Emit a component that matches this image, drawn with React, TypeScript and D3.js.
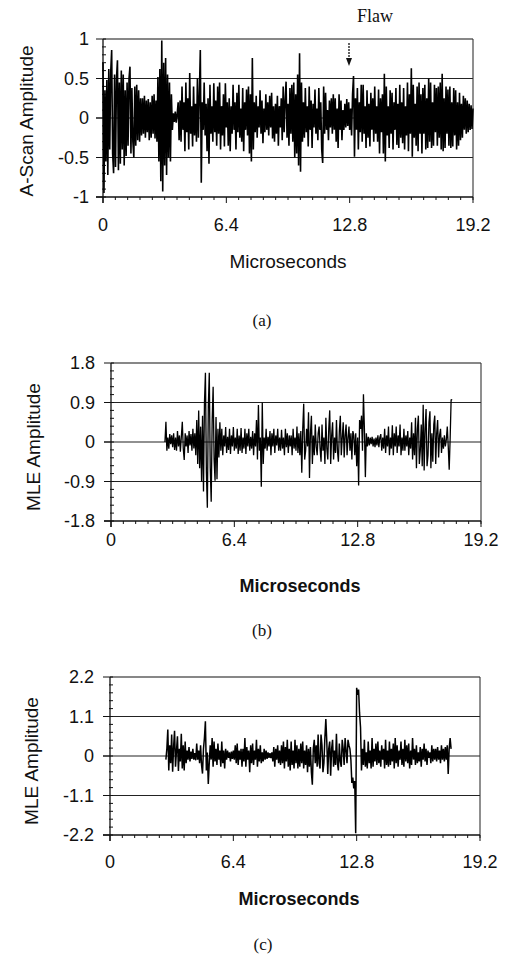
import React from 'react';
import * as d3 from 'd3';

// ---------- data ----------
const X_TICKS = [0, 6.4, 12.8, 19.2];
const X_TICK_LABELS = ['0', '6.4', '12.8', '19.2'];
const SAMPLE_STEP = 0.05; // microseconds between samples

// (a) A-scan, samples from 0 to 19.2 us
const A_START = 0;
const A_VALUES = [
  0.70, -0.95, 0.35, -0.55, 0.48, -0.72, 0.62, -0.40, 0.58, 0.86,
  -0.45, -0.70, 0.55, -0.62, 0.50, 0.73, -0.66, 0.45, -0.58, 0.60,
  -0.40, 0.55, -0.60, 0.35, -0.48, 0.45, -0.35, 0.50, 0.65, -0.45,
  0.38, -0.30, -0.50, 0.40, -0.35, 0.42, -0.28, 0.35, -0.30, 0.25,
  -0.22, 0.25, -0.20, 0.28, -0.25, 0.22, -0.18, 0.24, -0.28, 0.20,
  -0.25, 0.28, -0.20, 0.30, -0.26, 0.22, -0.30, 0.52, -0.55, 0.62,
  -0.80, 0.98, -0.93, 0.70, -0.60, 0.76, -0.72, 0.55, -0.50, 0.45,
  -0.55, 0.30, -0.15, 0.06, -0.05, 0.08, -0.06, 0.05, 0.20, -0.28,
  0.22, -0.30, 0.40, -0.15, 0.20, -0.42, 0.45, -0.18, 0.25, -0.40,
  0.57, -0.20, 0.15, -0.36, 0.40, -0.22, 0.18, -0.30, 0.50, -0.25,
  0.30, 0.86, -0.82, 0.20, -0.15, 0.45, -0.22, 0.18, -0.42, 0.25,
  -0.58, 0.42, -0.20, 0.15, -0.30, 0.44, -0.18, 0.22, -0.35, 0.40,
  -0.20, 0.45, -0.40, 0.15, -0.22, 0.30, -0.36, 0.44, -0.12, 0.20,
  -0.35, 0.25, -0.42, 0.15, -0.20, 0.42, -0.15, 0.20, -0.40, 0.32,
  -0.18, 0.42, -0.25, 0.12, -0.30, 0.38, -0.42, 0.20, -0.15, 0.36,
  -0.22, 0.40, -0.45, 0.30, -0.55, 0.76, -0.40, 0.20, -0.18, 0.28,
  -0.25, 0.15, -0.12, 0.35, -0.20, 0.22, -0.32, 0.12, -0.18, 0.30,
  -0.15, 0.20, -0.22, 0.28, -0.12, 0.32, -0.26, 0.15, -0.30, 0.18,
  -0.20, 0.28, -0.35, 0.15, -0.12, 0.25, -0.28, 0.40, -0.18, 0.22,
  0.46, -0.25, 0.18, -0.35, 0.38, -0.20, 0.42, -0.30, 0.45, -0.50,
  0.30, -0.45, 0.55, -0.60, 0.82, -0.68, 0.45, -0.30, 0.20, -0.25,
  0.38, -0.18, 0.15, -0.36, 0.40, -0.15, 0.22, -0.38, 0.18, -0.12,
  0.36, -0.20, 0.12, -0.28, 0.38, -0.15, 0.20, -0.40, -0.57, 0.40,
  -0.20, 0.32, -0.15, 0.10, -0.28, 0.22, -0.12, 0.25, -0.20, 0.30,
  -0.15, 0.25, -0.30, 0.12, -0.38, 0.30, -0.15, 0.22, -0.28, 0.10,
  -0.15, 0.18, -0.12, 0.24, -0.10, 0.20, -0.15, 0.12, -0.22, 0.30,
  0.53, -0.49, 0.25, -0.15, 0.38, -0.40, 0.20, -0.18, 0.42, -0.30,
  0.42, -0.20, 0.15, -0.38, 0.35, -0.25, 0.18, -0.36, 0.32, -0.15,
  0.25, -0.30, 0.40, -0.20, 0.15, -0.30, 0.36, -0.45, 0.25, -0.18,
  0.30, -0.45, 0.56, -0.55, 0.40, -0.22, 0.15, -0.38, 0.35, -0.20,
  0.32, -0.40, 0.20, -0.15, 0.38, -0.34, 0.18, -0.38, 0.42, -0.25,
  0.20, -0.32, 0.38, -0.40, 0.15, -0.22, 0.45, -0.42, 0.30, -0.20,
  0.63, -0.49, 0.42, -0.25, 0.18, -0.35, 0.40, -0.42, 0.45, -0.20,
  0.30, -0.45, 0.38, -0.20, 0.42, -0.40, 0.25, -0.38, 0.50, -0.30,
  0.45, -0.38, 0.20, -0.35, 0.42, -0.18, 0.38, -0.35, 0.40, -0.25,
  0.45, -0.40, 0.56, -0.42, 0.25, -0.38, 0.40, -0.20, 0.36, -0.35,
  0.40, -0.38, 0.20, -0.36, 0.38, -0.22, 0.35, -0.40, 0.20, -0.35,
  0.32, -0.28, 0.18, -0.25, 0.28, -0.15, 0.25, -0.20, 0.22, -0.18,
  0.18, -0.15, 0.16, -0.14, 0.12,
];
const A_Y_TICKS = [1, 0.5, 0, -0.5, -1];
const A_Y_LABELS = ['1', '0.5', '0', '-0.5', '-1'];
const A_GRID = [0.5, 0, -0.5];

// (b) MLE, samples from 2.8 to 17.7 us
const B_START = 2.8;
const B_VALUES = [
  0.00, 0.46, -0.20, 0.10, -0.15, 0.18, -0.05, 0.15, -0.12, 0.20,
  -0.18, 0.10, -0.20, 0.25, -0.10, 0.15, -0.22, 0.12, 0.46, -0.15,
  -0.41, 0.20, -0.10, 0.15, -0.25, 0.25, -0.08, 0.18, -0.20, 0.30,
  -0.15, 0.20, -0.30, 0.50, -0.50, 0.72, -0.60, 0.35, -0.90, 0.60,
  -1.13, 0.90, 1.58, -0.70, -1.50, 0.80, 1.58, -0.60, -1.36, 0.50,
  1.26, -0.40, -0.88, 0.57, -0.85, 0.30, -0.35, 0.45, -0.20, 0.30,
  -0.30, 0.15, -0.10, 0.34, -0.25, 0.12, -0.18, 0.30, -0.27, 0.15,
  -0.10, 0.34, -0.20, 0.10, -0.15, 0.30, -0.27, 0.15, -0.20, 0.32,
  -0.25, 0.10, -0.15, 0.30, -0.27, 0.20, -0.10, 0.30, -0.20, 0.12,
  -0.15, 0.25, -0.30, 0.20, -0.10, 0.50, -0.40, 0.84, -0.20, 0.10,
  -1.02, 0.90, -0.50, 0.10, -0.15, 0.30, -0.20, 0.12, -0.10, 0.25,
  -0.30, 0.20, -0.10, 0.30, -0.25, 0.15, -0.08, 0.30, -0.20, 0.10,
  -0.20, 0.28, -0.15, 0.10, -0.30, 0.30, -0.12, 0.20, -0.25, 0.15,
  -0.10, 0.15, -0.30, 0.30, -0.15, 0.10, -0.20, 0.35, -0.25, 0.20,
  -0.30, 0.25, -0.70, 0.30, 0.87, -0.40, -0.20, 0.30, -0.10, 0.68,
  -0.82, 0.20, 0.60, -0.50, 0.15, -0.30, 0.40, -0.10, -0.30, 0.20,
  0.35, -0.15, -0.45, 0.40, -0.20, 0.10, -0.50, 0.55, -0.15, -0.40,
  0.30, 0.72, -0.50, 0.15, 0.45, -0.40, 0.10, -0.25, 0.50, -0.20,
  -0.45, 0.25, 0.60, -0.30, 0.10, 0.45, -0.35, 0.15, 0.40, -0.30,
  0.10, 0.35, -0.20, 0.20, -0.40, 0.25, 0.15, -0.30, 0.20, -0.55,
  0.10, -0.99, 0.50, 0.30, 0.60, -0.20, 1.09, 0.30, -0.80, 0.20,
  -0.10, 0.12, -0.08, 0.10, -0.05, 0.12, -0.10, 0.08, -0.12, 0.10,
  -0.08, 0.15, -0.12, 0.10, 0.18, -0.20, 0.10, -0.15, 0.30, -0.25,
  0.15, -0.10, 0.35, -0.30, 0.10, -0.15, 0.38, -0.30, 0.20, -0.10,
  0.35, -0.25, 0.15, -0.10, 0.40, -0.30, 0.10, -0.20, 0.30, -0.20,
  0.15, -0.10, 0.25, -0.30, 0.10, -0.15, 0.45, -0.40, 0.20, -0.30,
  0.55, -0.60, 0.30, 0.60, -0.50, -0.20, 0.40, -0.55, 0.85, -0.65,
  0.30, 0.75, -0.55, -0.30, 0.45, 0.70, -0.60, 0.20, -0.45, 0.40,
  0.60, -0.50, 0.20, 0.50, -0.35, 0.15, 0.30, -0.25, 0.10, -0.15,
  0.15, -0.10, 0.05, 0.35, -0.10, -0.63, 0.10, 0.97, 0.95,
];
const B_Y_TICKS = [1.8, 0.9, 0, -0.9, -1.8];
const B_Y_LABELS = ['1.8', '0.9', '0', '-0.9', '-1.8'];
const B_GRID = [0.9, 0, -0.9];

// (c) MLE, samples from 2.9 to 17.7 us
const C_START = 2.9;
const C_VALUES = [
  -0.10, 0.20, 0.74, -0.40, 0.30, -0.20, 0.60, -0.44, 0.25, 0.70,
  -0.30, 0.15, 0.55, -0.42, 0.20, -0.15, 0.62, -0.35, 0.30, -0.40,
  0.40, -0.20, 0.15, -0.10, 0.25, -0.15, 0.12, -0.08, 0.20, -0.10,
  0.08, -0.12, 0.35, -0.10, 0.15, -0.20, 0.30, -0.25, -0.49, 0.20,
  0.50, 0.97, -0.40, 0.10, -0.78, -0.20, 0.30, -0.10, 0.50, -0.30,
  0.40, -0.15, 0.20, -0.25, 0.35, -0.10, 0.15, -0.30, 0.40, -0.20,
  0.15, -0.35, 0.20, -0.10, 0.15, -0.05, 0.10, -0.15, 0.12, -0.08,
  0.15, -0.10, 0.30, -0.20, 0.35, -0.25, 0.15, -0.10, 0.20, -0.30,
  0.20, -0.15, 0.50, -0.30, 0.25, -0.10, 0.15, -0.45, 0.30, -0.20,
  0.35, -0.25, 0.15, -0.10, 0.45, -0.30, 0.20, -0.15, 0.30, -0.20,
  0.10, -0.15, 0.20, -0.10, 0.15, -0.08, 0.10, -0.05, 0.08, -0.06,
  0.10, -0.15, 0.25, -0.30, 0.20, -0.10, 0.30, -0.20, 0.15, -0.25,
  0.30, -0.20, 0.40, -0.35, 0.25, -0.15, 0.45, -0.30, 0.20, -0.40,
  0.40, -0.25, 0.15, -0.35, 0.45, -0.20, 0.30, -0.35, 0.20, -0.30,
  0.35, -0.20, 0.40, -0.35, 0.15, -0.25, 0.30, -0.45, 0.20, -0.30,
  0.25, -0.45, -0.80, 0.20, 0.45, -0.20, 0.30, -0.30, 0.60, -0.20,
  -0.35, 0.60, 0.30, -0.45, -0.20, 0.50, 1.03, 0.40, -0.50, 0.20,
  0.40, -0.55, 0.20, 0.45, -0.30, 0.15, -0.25, 0.62, -0.20, -0.40,
  0.35, -0.15, -0.30, 0.45, 0.20, -0.25, 0.50, 0.15, -0.20, 0.45,
  0.30, 0.20, -0.10, -0.75, -0.60, -0.90, -0.70, -2.15, 1.90, 1.70,
  1.85, 1.20, 0.80, -0.40, 0.20, -0.25, 0.45, -0.30, 0.10, -0.35,
  0.40, -0.20, 0.15, -0.35, 0.50, -0.30, 0.20, -0.15, 0.35, -0.25,
  0.40, -0.20, 0.15, -0.30, 0.30, -0.10, 0.20, -0.35, 0.45, -0.25,
  0.15, -0.30, 0.40, -0.25, 0.20, -0.15, 0.35, -0.35, 0.50, -0.20,
  0.30, -0.30, 0.15, -0.10, 0.40, -0.25, 0.20, -0.30, 0.45, -0.15,
  0.30, -0.20, 0.35, -0.35, 0.15, -0.25, 0.50, -0.10, 0.20, -0.25,
  0.30, -0.20, 0.10, -0.15, 0.25, -0.30, 0.20, -0.10, 0.35, -0.15,
  0.20, -0.25, 0.15, -0.05, 0.10, -0.20, 0.30, -0.15, 0.20, -0.10,
  0.20, -0.15, 0.25, -0.10, 0.15, -0.20, 0.30, -0.10, 0.20, -0.15,
  0.25, -0.10, 0.30, -0.50, 0.20, 0.50, 0.20,
];
const C_Y_TICKS = [2.2, 1.1, 0, -1.1, -2.2];
const C_Y_LABELS = ['2.2', '1.1', '0', '-1.1', '-2.2'];
const C_GRID = [1.1, 0, -1.1];

const SANS = 'Liberation Sans, Arial, Helvetica, sans-serif';
const SERIF = 'Liberation Serif, Times New Roman, serif';

type PanelProps = {
  values: number[];
  start: number;
  yMax: number;
  yTicks: number[];
  yLabels: string[];
  grid: number[];
  left: number;
  right: number;
  top: number;
  bottom: number;
  yLabel: string;
  yLabelX: number;
  yLabelY: number;
  tickLabelRight: number;
  xLabelY: number;
  titleY: number;
  titleX: number;
  titleBold: boolean;
  titleSize: number;
  caption: string;
  captionX: number;
  captionY: number;
  strokeW: number;
};

function Panel(p: PanelProps) {
  const x = d3.scaleLinear().domain([0, 19.2]).range([p.left, p.right]);
  const y = d3.scaleLinear().domain([-p.yMax, p.yMax]).range([p.bottom, p.top]);
  const line = d3
    .line<number>()
    .x((_, i) => x(p.start + i * SAMPLE_STEP))
    .y((d) => y(d));
  const minorX = d3.range(0, 31).map((i) => (19.2 * i) / 30);
  const minorY = d3.range(0, 21).map((i) => -p.yMax + (2 * p.yMax * i) / 20);
  return (
    <g>
      {p.grid.map((g) => (
        <line key={'g' + g} x1={p.left - 7} x2={p.right} y1={y(g)} y2={y(g)} stroke="#222" strokeWidth={1.1} />
      ))}
      <line x1={p.left} x2={p.right} y1={p.top} y2={p.top} stroke="#111" strokeWidth={1.2} />
      <line x1={p.right} x2={p.right} y1={p.top} y2={p.bottom + 3} stroke="#333" strokeWidth={1.1} />
      <line x1={p.left} x2={p.left} y1={p.top} y2={p.bottom + 6} stroke="#111" strokeWidth={1.3} />
      <line x1={p.left - 7} x2={p.right} y1={p.bottom} y2={p.bottom} stroke="#111" strokeWidth={1.3} />
      {minorX.map((v, i) => (
        <line key={'mx' + i} x1={x(v)} x2={x(v)} y1={p.bottom} y2={p.bottom + (i % 10 === 0 ? 6 : 3)} stroke="#111" strokeWidth={1} />
      ))}
      {minorY.map((v, i) => (
        <line key={'my' + i} x1={p.left - (i % 5 === 0 ? 7 : 1)} x2={p.left + 3} y1={y(v)} y2={y(v)} stroke="#111" strokeWidth={1} />
      ))}
      <path d={line(p.values) || ''} fill="none" stroke="#000" strokeWidth={p.strokeW} strokeLinejoin="miter" strokeMiterlimit={2} />
      {p.yTicks.map((t, i) => (
        <text key={'yt' + i} x={p.tickLabelRight} y={y(t)} textAnchor="end" dominantBaseline="central" fontFamily={SANS} fontSize={18} fill="#111">
          {p.yLabels[i]}
        </text>
      ))}
      {X_TICKS.map((t, i) => (
        <text key={'xt' + i} x={x(t)} y={p.xLabelY} textAnchor="middle" dominantBaseline="central" fontFamily={SANS} fontSize={18} fill="#111">
          {X_TICK_LABELS[i]}
        </text>
      ))}
      <text x={p.titleX} y={p.titleY} textAnchor="middle" fontFamily={SANS} fontSize={p.titleSize} fontWeight={p.titleBold ? 'bold' : 'normal'} fill="#111">
        Microseconds
      </text>
      <text
        transform={`translate(${p.yLabelX},${p.yLabelY}) rotate(-90)`}
        textAnchor="middle"
        dominantBaseline="central"
        fontFamily={SANS}
        fontSize={19}
        fill="#111"
      >
        {p.yLabel}
      </text>
      <text x={p.captionX} y={p.captionY} textAnchor="middle" fontFamily={SERIF} fontSize={17} fill="#111">
        {p.caption}
      </text>
    </g>
  );
}

export default function App() {
  return (
    <svg width={506} height={955} style={{ position: 'absolute', left: 0, top: 0, background: '#fff' }}>
      <rect x={0} y={0} width={506} height={955} fill="#fff" />
      <text x={375} y={22} textAnchor="middle" fontFamily={SERIF} fontSize={18} fill="#111">Flaw</text>
      <line x1={349} x2={349} y1={43} y2={60} stroke="#111" strokeWidth={1.3} strokeDasharray="2,1" />
      <path d="M346,58 L352,58 L349,66 Z" fill="#111" />
      <Panel
        values={A_VALUES} start={A_START} yMax={1} yTicks={A_Y_TICKS} yLabels={A_Y_LABELS} grid={A_GRID}
        left={103} right={473} top={39} bottom={197}
        yLabel="A-Scan Amplitude" yLabelX={26} yLabelY={121} tickLabelRight={89}
        xLabelY={225} titleX={288} titleY={268} titleBold={false} titleSize={19}
        caption="(a)" captionX={262} captionY={326} strokeW={1.6}
      />
      <Panel
        values={B_VALUES} start={B_START} yMax={1.8} yTicks={B_Y_TICKS} yLabels={B_Y_LABELS} grid={B_GRID}
        left={111} right={481} top={363} bottom={521}
        yLabel="MLE Amplitude" yLabelX={33} yLabelY={447} tickLabelRight={95}
        xLabelY={540} titleX={300} titleY={592} titleBold={true} titleSize={18}
        caption="(b)" captionX={262} captionY={636} strokeW={1.3}
      />
      <Panel
        values={C_VALUES} start={C_START} yMax={2.2} yTicks={C_Y_TICKS} yLabels={C_Y_LABELS} grid={C_GRID}
        left={110} right={480} top={677} bottom={835}
        yLabel="MLE Amplitude" yLabelX={31} yLabelY={761} tickLabelRight={94}
        xLabelY={862} titleX={299} titleY={905} titleBold={true} titleSize={18}
        caption="(c)" captionX={263} captionY={950} strokeW={1.5}
      />
    </svg>
  );
}
